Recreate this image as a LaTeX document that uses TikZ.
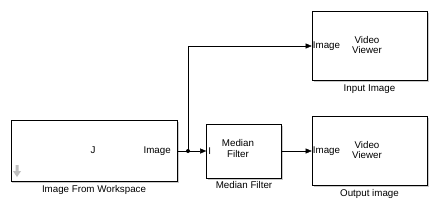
\documentclass[tikz,border=0pt]{standalone}
\usepackage{fontspec}
\setmainfont{Liberation Sans}
\usetikzlibrary{arrows.meta,shadows}
\tikzset{simblk/.style={x=1bp,y=-1bp,font=\fontsize{9.8}{10.5}\selectfont},
  blk/.style={draw,semithick,fill=white,inner sep=0pt,
    drop shadow={shadow xshift=1.5bp,shadow yshift=-1.5bp,opacity=0.35,fill=black!60}},
  sig/.style={-{Triangle[length=6pt,width=5pt]}}}

\begin{document}
\begin{tikzpicture}[simblk]
    \useasboundingbox (0,0) rectangle (437,211);
    % blocks
    \node[blk,minimum width=166bp,minimum height=61bp] (ifw) at (94,151) {};
    \node[blk,minimum width=75bp,minimum height=54bp] (med) at (244,151) {};
    \node[blk,minimum width=115bp,minimum height=69bp] (inimg) at (369.5,46) {};
    \node[blk,minimum width=115bp,minimum height=69bp] (outimg) at (369.5,151) {};
    % texts
    \node (ifwtxt) at (93,150) {J};
    \node[anchor=east] (ifwport) at ([xshift=-3bp]ifw.east) {Image};
    \node[anchor=west,inner sep=2pt] (medport) at (med.west) {I};
    \node[align=center] (medtxt) at (238,148.5) {Median\\Filter};
    \node[anchor=west,inner sep=1pt] (inport) at (inimg.west) {Image};
    \node[align=center] (intxt) at (367,45) {Video\\Viewer};
    \node[anchor=west,inner sep=1pt] (outport) at (outimg.west) {Image};
    \node[align=center] (outtxt) at (367,150) {Video\\Viewer};
    % names
    \node[below=0bp] (ifwname) at (ifw.south) {Image From Workspace};
    \node[below=0bp] (medname) at (med.south) {Median Filter};
    \node[below=0bp] (inname) at (inimg.south) {Input Image};
    \node[below=0bp] (outname) at (outimg.south) {Output image};
    % icon
    \fill[black!25] (15.5,165) -- (18.5,165) -- (18.5,171) -- (21,171) -- (17,177) -- (13,171) -- (15.5,171) -- cycle;
    % lines
    \coordinate (br) at (188,151);
    \draw (ifw.east) -- (br);
    \draw[sig] (br) -- (med.west);
    \draw[sig] (br) |- (inimg.west);
    \draw[sig] (med.east) -- (outimg.west);
    \fill (br) circle (2bp);
\end{tikzpicture}
\end{document}
